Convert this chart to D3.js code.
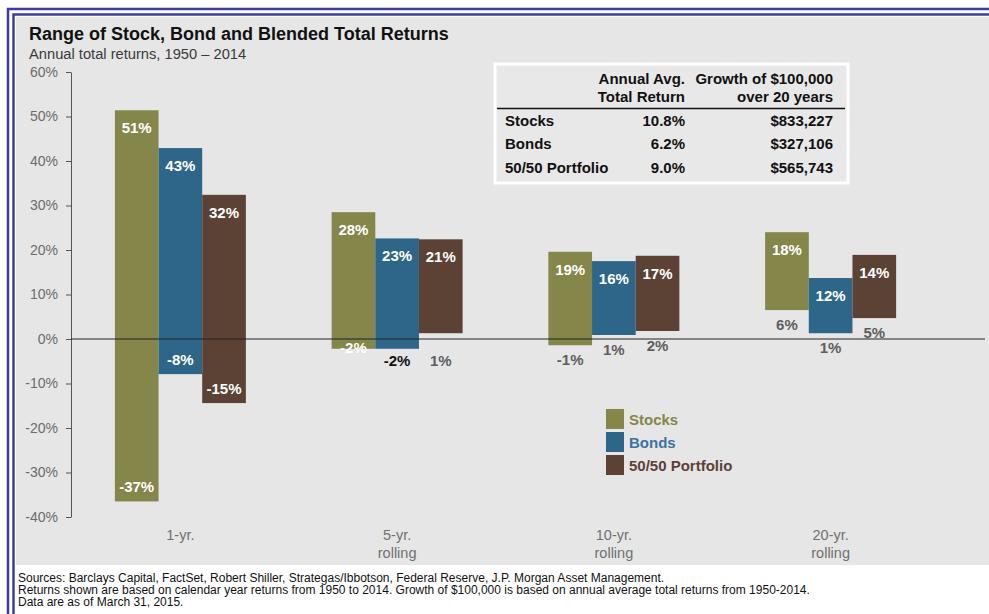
<!DOCTYPE html>
<html>
<head>
<meta charset="utf-8">
<script src="https://cdn.jsdelivr.net/npm/d3@7"></script>
<style>
  body { margin: 0; background: #fff; }
  svg { font-family: "Liberation Sans", Arial, sans-serif; display: block; }
</style>
</head>
<body>
<svg></svg>
<script>
let width = 989;
let height = 614;

// data
let periods = ["1-yr.", "5-yr.", "10-yr.", "20-yr."];
let periodSub = ["", "rolling", "rolling", "rolling"];
let series = ["Stocks", "Bonds", "50/50 Portfolio"];
let highs = {
  "Stocks": [51.4, 28.5, 19.6, 24.0],
  "Bonds": [42.9, 22.6, 17.5, 13.7],
  "50/50 Portfolio": [32.4, 22.4, 18.7, 18.9]
};
let lows = {
  "Stocks": [-36.5, -2.2, -1.4, 6.5],
  "Bonds": [-7.9, -2.2, 0.9, 1.3],
  "50/50 Portfolio": [-14.4, 1.3, 1.8, 4.7]
};
let highLabels = {
  "Stocks": ["51%", "28%", "19%", "18%"],
  "Bonds": ["43%", "23%", "16%", "12%"],
  "50/50 Portfolio": ["32%", "21%", "17%", "14%"]
};
let lowLabels = {
  "Stocks": ["-37%", "-2%", "-1%", "6%"],
  "Bonds": ["-8%", "-2%", "1%", "1%"],
  "50/50 Portfolio": ["-15%", "1%", "2%", "5%"]
};
let yTicks = [60, 50, 40, 30, 20, 10, 0, -10, -20, -30, -40];

let tableHead = [["Annual Avg.", "Total Return"], ["Growth of $100,000", "over 20 years"]];
let tableRows = ["Stocks", "Bonds", "50/50 Portfolio"];
let tableAvg = ["10.8%", "6.2%", "9.0%"];
let tableGrowth = ["$833,227", "$327,106", "$565,743"];

let footnotes = [
  "Sources: Barclays Capital, FactSet, Robert Shiller, Strategas/Ibbotson, Federal Reserve, J.P. Morgan Asset Management.",
  "Returns shown are based on calendar year returns from 1950 to 2014. Growth of $100,000 is based on annual average total returns from 1950-2014.",
  "Data are as of March 31, 2015."
];

let colors = { "Stocks": "#85864a", "Bonds": "#2d6689", "50/50 Portfolio": "#5b4235" };
let legendText = { "Stocks": "#85864a", "Bonds": "#3a72a0", "50/50 Portfolio": "#5b4235" };

let svg = d3.select("svg")
            .attr("width", width)
            .attr("height", height);

// panel background + frame
svg.append("rect").attr("x", 16).attr("y", 17).attr("width", width - 16).attr("height", 548)
   .attr("fill", "#e6e6e6");
svg.append("rect").attr("x", 8).attr("y", 9).attr("width", 1000).attr("height", 700)
   .attr("fill", "none").attr("stroke", "#3c3c9c").attr("stroke-width", 2.5);
svg.append("rect").attr("x", 13.5).attr("y", 14.5).attr("width", 1000).attr("height", 700)
   .attr("fill", "none").attr("stroke", "#3c3c9c").attr("stroke-width", 2.5);

svg.append("text").attr("x", 29).attr("y", 40)
   .attr("font-size", 18).attr("font-weight", "bold").attr("fill", "#111")
   .text("Range of Stock, Bond and Blended Total Returns");
svg.append("text").attr("x", 29).attr("y", 59)
   .attr("font-size", 14.7).attr("fill", "#3a3a3a")
   .text("Annual total returns, 1950 \u2013 2014");

let yScale = d3.scaleLinear().domain([-40, 60]).range([517, 72]);
let xScale = d3.scaleBand().domain(periods).range([72, 939]).padding(0);
let inner = d3.scaleBand().domain(series)
              .range([xScale.bandwidth() / 2 - 65.5, xScale.bandwidth() / 2 + 65.5]);

// y axis
let yAxis = svg.append("g")
   .attr("transform", "translate(71,0)")
   .call(d3.axisLeft(yScale).tickValues(yTicks).tickSize(5).tickSizeOuter(0)
           .tickFormat((d) => d + "%"));
yAxis.select(".domain").attr("stroke", "#555");
yAxis.selectAll(".tick line").attr("stroke", "#555");
yAxis.selectAll(".tick text").attr("font-size", 14).attr("fill", "#6b6b6b")
     .attr("font-family", "Liberation Sans, Arial, sans-serif").attr("x", -13);

// bars
let bars = [];
series.forEach((s) => {
  periods.forEach((p, i) => {
    bars.push({ s: s, p: p, hi: highs[s][i], lo: lows[s][i], hiL: highLabels[s][i], loL: lowLabels[s][i] });
  });
});

let g = svg.append("g");
g.selectAll("rect")
 .data(bars)
 .enter()
 .append("rect")
 .attr("x", (d) => xScale(d.p) + inner(d.s))
 .attr("y", (d) => yScale(d.hi))
 .attr("width", inner.bandwidth())
 .attr("height", (d) => yScale(d.lo) - yScale(d.hi))
 .attr("fill", (d) => colors[d.s]);

// zero line
svg.append("line").attr("x1", 71).attr("x2", 985)
   .attr("y1", yScale(0)).attr("y2", yScale(0))
   .attr("stroke", "#222").attr("stroke-width", 1);

g.selectAll("text.hi")
 .data(bars)
 .enter()
 .append("text")
 .attr("class", "hi")
 .attr("x", (d) => xScale(d.p) + inner(d.s) + inner.bandwidth() / 2)
 .attr("y", (d) => yScale(d.hi) + 23)
 .attr("text-anchor", "middle")
 .attr("font-size", 15).attr("font-weight", "bold").attr("fill", "#fff")
 .text((d) => d.hiL);

// low labels: inside the bar when it dips well below zero, otherwise under it
function lowInside(d) {
  return d.lo < -5 || (d.p === "5-yr." && d.s === "Stocks");
}
g.selectAll("text.lo")
 .data(bars)
 .enter()
 .append("text")
 .attr("class", "lo")
 .attr("x", (d) => xScale(d.p) + inner(d.s) + inner.bandwidth() / 2)
 .attr("y", (d) => {
   if (lowInside(d)) return d.p === "1-yr." ? yScale(d.lo) - 9 : yScale(d.lo) + 4;
   if (d.p === "5-yr.") return yScale(-2) + 18;
   return yScale(d.lo) + 20;
 })
 .attr("text-anchor", "middle")
 .attr("font-size", 15).attr("font-weight", "bold")
 .attr("fill", (d) => {
   if (lowInside(d)) return "#fff";
   if (d.p === "5-yr." && d.s === "Bonds") return "#111";
   return "#5e5e5e";
 })
 .text((d) => d.loL);

// category labels
let cat = svg.append("g").selectAll("g")
  .data(periods).enter().append("g")
  .attr("transform", (d) => "translate(" + (xScale(d) + xScale.bandwidth() / 2) + ",0)");
cat.append("text").attr("y", 540).attr("text-anchor", "middle")
   .attr("font-size", 14.5).attr("fill", "#707070").text((d) => d);
cat.append("text").attr("y", 558).attr("text-anchor", "middle")
   .attr("font-size", 14.5).attr("fill", "#707070").text((d, i) => periodSub[i]);

// table box
let tb = svg.append("g");
tb.append("rect").attr("x", 495).attr("y", 64).attr("width", 353).attr("height", 119)
  .attr("fill", "#e8e8e8").attr("stroke", "#fff").attr("stroke-width", 3);
tableHead.forEach((h, i) => {
  let xr = i === 0 ? 685 : 833;
  h.forEach((t, j) => {
    tb.append("text").attr("x", xr).attr("y", 84 + j * 18).attr("text-anchor", "end")
      .attr("font-size", 15).attr("font-weight", "bold").attr("fill", "#111").text(t);
  });
});
tb.append("line").attr("x1", 497).attr("x2", 845).attr("y1", 108.5).attr("y2", 108.5)
  .attr("stroke", "#111").attr("stroke-width", 1.5);
tableRows.forEach((r, i) => {
  let y = 125.5 + i * 23.5;
  tb.append("text").attr("x", 505).attr("y", y).attr("font-size", 15)
    .attr("font-weight", "bold").attr("fill", "#111").text(r);
  tb.append("text").attr("x", 685).attr("y", y).attr("text-anchor", "end").attr("font-size", 15)
    .attr("font-weight", "bold").attr("fill", "#111").text(tableAvg[i]);
  tb.append("text").attr("x", 833).attr("y", y).attr("text-anchor", "end").attr("font-size", 15)
    .attr("font-weight", "bold").attr("fill", "#111").text(tableGrowth[i]);
});

// legend
let lg = svg.append("g").selectAll("g")
  .data(series).enter().append("g")
  .attr("transform", (d, i) => "translate(606," + (409 + i * 23) + ")");
lg.append("rect").attr("width", 18).attr("height", 20).attr("fill", (d) => colors[d]);
lg.append("text").attr("x", 23).attr("y", 15.5).attr("font-size", 15).attr("font-weight", "bold")
  .attr("fill", (d) => legendText[d]).text((d) => d);

// footnotes
svg.append("g").selectAll("text")
  .data(footnotes).enter().append("text")
  .attr("x", 18).attr("y", (d, i) => 582 + i * 12)
  .attr("font-size", 12).attr("fill", "#111").text((d) => d);
</script>
</body>
</html>
